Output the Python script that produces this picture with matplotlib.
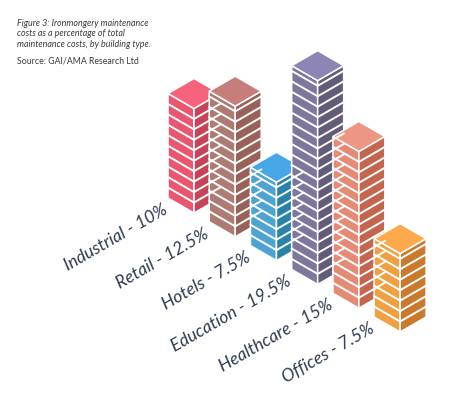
import matplotlib
matplotlib.use("Agg")
import matplotlib.pyplot as plt
from matplotlib.patches import Polygon
import numpy as np

# ---- data ----
categories = ["Industrial", "Retail", "Hotels", "Education", "Healthcare", "Offices"]
values = [10, 12.5, 7.5, 19.5, 15, 7.5]
label_texts = ["Industrial - 10%", "Retail - 12.5%", "Hotels - 7.5%",
               "Education - 19.5%", "Healthcare - 15%", "Offices - 7.5%"]
top_colors = ["#F4627B", "#C67D7B", "#46A6E6", "#8D85B5", "#EC9683", "#FCAA4C"]
left_colors = ["#E9566F", "#AE7B74", "#4FA3D3", "#7E769C", "#E48B78", "#EFA043"]
right_colors = ["#C7435C", "#98625A", "#2A82A6", "#625C78", "#C3664F", "#C97A2D"]

caption_lines = ["Figure 3: Ironmongery maintenance",
                 "costs as a percentage of total",
                 "maintenance costs, by building type."]
source_text = "Source: GAI/AMA Research Ltd"

TEXT_COLOR = "#2E3B4E"

fig = plt.figure(figsize=(4.53, 4.15), dpi=100)
ax = fig.add_axes([0, 0, 1, 1])
ax.set_xlim(0, 453)
ax.set_ylim(415, 0)
ax.axis("off")

C = np.cos(np.pi / 6)
S = np.sin(np.pi / 6)
X0, Y0 = 194.0, 183.0   # projection origin
W = 30.0                 # bar edge length
G = 47.6                 # spacing between bars along the row
ZS = 10.45               # vertical pixels per percent


def P(u, v, z):
    return (X0 + (u - v) * C, Y0 + (u + v) * S - z * ZS)


for i, val in enumerate(values):
    u0 = i * G
    u1 = u0 + W
    v0, v1 = 0.0, W
    left = [P(u0, v1, 0), P(u1, v1, 0), P(u1, v1, val), P(u0, v1, val)]
    right = [P(u1, v1, 0), P(u1, v0, 0), P(u1, v0, val), P(u1, v1, val)]
    top = [P(u0, v0, val), P(u1, v0, val), P(u1, v1, val), P(u0, v1, val)]
    for poly, col in ((left, left_colors[i]), (right, right_colors[i]), (top, top_colors[i])):
        ax.add_patch(Polygon(poly, closed=True, facecolor=col, edgecolor="white",
                             linewidth=1.1, joinstyle="miter"))
    k = 1
    while k < val:
        pts = [P(u0, v1, k), P(u1, v1, k), P(u1, v0, k)]
        ax.plot([p[0] for p in pts], [p[1] for p in pts], color="white",
                linewidth=1.4, solid_joinstyle="miter")
        k += 1
    # label
    ax_, ay_ = P(u0 + 15, v1 + 15, 0)
    ax.text(ax_ + 1, ay_, label_texts[i], rotation=30, rotation_mode="anchor",
            ha="right", va="baseline", fontsize=12.6, family="Lato",
            style="italic", color=TEXT_COLOR)

# caption
cap_y = [26, 36.5, 47]
for y, line in zip(cap_y, caption_lines):
    ax.text(17, y, line, fontsize=6.4, family="Lato", style="italic",
            color="#3A3A3A", ha="left", va="baseline")
ax.text(17, 64, source_text, fontsize=6.3, family="Lato", color="#3A3A3A",
        ha="left", va="baseline")

fig.savefig("out.png", dpi=100)
